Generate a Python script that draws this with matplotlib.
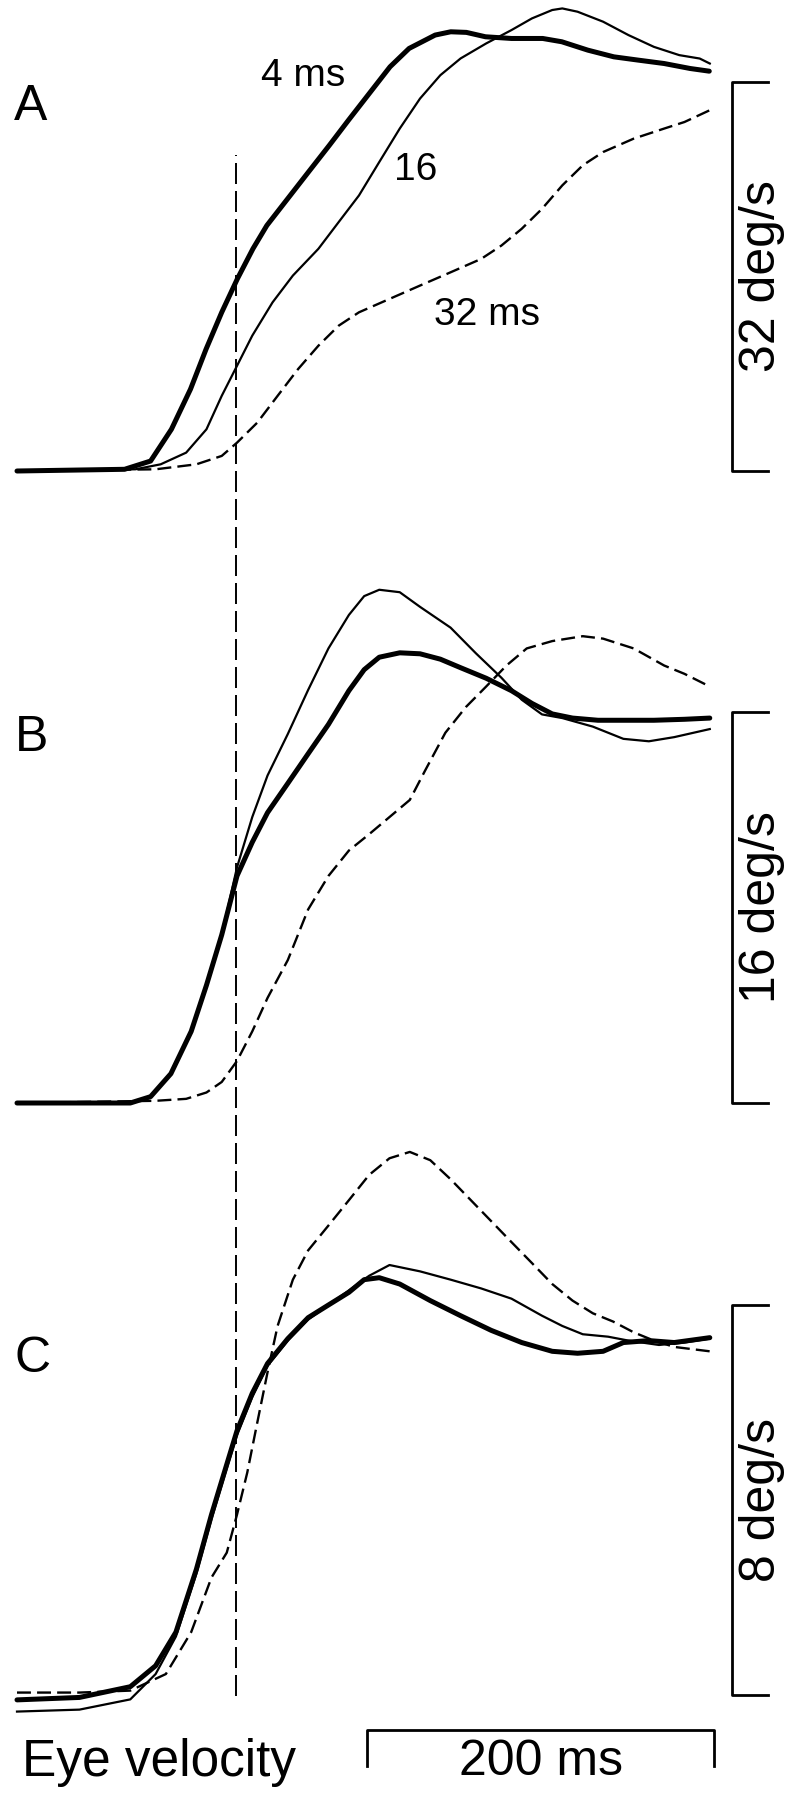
import matplotlib
matplotlib.use("Agg")
import matplotlib.pyplot as plt

plt.rcParams["font.family"] = ["Liberation Sans", "DejaVu Sans"]

# ---------------------------------------------------------------
# data: eye velocity (deg/s) vs time (ms from trace start)
# ---------------------------------------------------------------
T_ONSET = 126.5  # dashed vertical line

# panel A (32 deg/s)
a4_t = [0, 62, 77, 89, 100, 109, 118, 127, 136, 144, 156, 168, 180, 191, 203,
        215, 226, 241, 250, 259, 270, 285, 303, 314, 329, 344, 358, 373, 388, 399]
a4_v = [0, 0.14, 0.82, 3.43, 6.73, 10.03, 13.05, 15.80, 18.28, 20.19, 22.39, 24.59,
        26.78, 28.84, 31.04, 33.24, 34.75, 35.85, 36.12, 36.07, 35.71, 35.57, 35.57,
        35.30, 34.61, 34.06, 33.79, 33.51, 33.10, 32.88]

a16_t = [0, 68.2, 82.8, 97.5, 109.2, 118, 126.8, 135.6, 147.3, 159, 173.7, 185.4,
         197.1, 208.8, 220.6, 232.3, 244, 255.7, 270.4, 285, 296.8, 308.5, 314.3,
         323.1, 337.8, 352.4, 367.1, 381.7, 393.5, 399.3]
a16_v = [0, 0.14, 0.55, 1.51, 3.43, 6.18, 8.65, 11.13, 13.87, 16.07, 18.27, 20.47,
         22.66, 25.41, 28.16, 30.63, 32.55, 33.93, 35.16, 36.26, 37.22, 37.91, 38.04,
         37.77, 36.95, 35.85, 34.88, 34.20, 33.92, 33.51]

a32_t = [0, 79.9, 103.4, 118, 126.8, 138.5, 150.2, 162, 173.7, 185.4, 197.1, 214.7,
         232.3, 249.9, 267.5, 279.2, 290.9, 302.6, 314.3, 326.1, 337.8, 355.4, 373,
         384.7, 399.3]
a32_v = [0, 0.14, 0.55, 1.24, 2.33, 3.98, 6.18, 8.38, 10.30, 11.95, 13.05, 14.15,
         15.25, 16.34, 17.44, 18.54, 19.92, 21.56, 23.49, 25.14, 26.23, 27.33, 28.16,
         28.70, 29.67]

# panel B (16 deg/s)
b4_t = [0, 65.3, 77, 88.7, 100.4, 109.2, 118, 126.8, 135.6, 144.4, 156.1, 167.8,
        179.5, 191.3, 200.1, 208.8, 220.6, 232.3, 244, 255.7, 270.4, 285, 296.8,
        308.5, 320.2, 334.9, 349.5, 367.1, 384.7, 399.3]
b4_v = [0, 0, 0.26, 1.2, 2.93, 4.82, 6.88, 9.29, 10.67, 11.88, 13.08, 14.29, 15.49,
        16.87, 17.73, 18.24, 18.42, 18.38, 18.16, 17.81, 17.38, 16.87, 16.35, 15.92,
        15.75, 15.66, 15.66, 15.66, 15.70, 15.75]

b16_t = [0, 65.3, 77, 88.7, 100.4, 109.2, 118, 126.8, 135.6, 144.4, 156.1, 167.8,
         179.5, 191.3, 200.1, 208.8, 220.6, 232.3, 249.9, 264.5, 279.2, 290.9, 302.6,
         314.3, 331.9, 349.5, 364.2, 378.8, 399.3]
b16_v = [0, 0, 0.26, 1.2, 2.93, 4.82, 6.88, 9.64, 11.7, 13.4, 15.1, 16.9, 18.6,
         19.97, 20.74, 21.0, 20.9, 20.3, 19.45, 18.4, 17.4, 16.5, 15.9, 15.75, 15.4,
         14.9, 14.8, 14.97, 15.3]

b32_t = [0, 79.9, 97.5, 109.2, 118, 126.8, 135.6, 144.4, 156.1, 167.8, 179.5, 191.3,
         203, 214.7, 226.4, 235.2, 246.9, 258.7, 270.4, 282.1, 293.8, 308.5, 326.1,
         337.8, 355.4, 373, 384.7, 399.3]
b32_v = [0, 0.09, 0.17, 0.43, 0.86, 1.72, 2.93, 4.30, 5.85, 7.92, 9.29, 10.33, 11.0,
         11.7, 12.4, 13.6, 15.15, 16.2, 17.04, 17.9, 18.6, 18.9, 19.1, 19.0, 18.6,
         17.9, 17.56, 17.04]

# panel C (8 deg/s)
c4_t = [0, 36, 65.3, 79.9, 91.6, 103.4, 112.1, 120.9, 126.8, 135.6, 144.4, 156.1,
        167.8, 179.5, 191.3, 200.1, 208.8, 220.6, 238.2, 255.7, 273.3, 290.9, 308.5,
        323.1, 337.8, 349.5, 364.2, 378.8, 399.3]
c4_v = [-0.1, -0.05, 0.17, 0.6, 1.29, 2.58, 3.70, 4.73, 5.42, 6.19, 6.80, 7.31, 7.74,
        8.0, 8.26, 8.52, 8.56, 8.43, 8.09, 7.78, 7.48, 7.23, 7.05, 7.01, 7.05, 7.23,
        7.27, 7.23, 7.33]

c16_t = [0, 36, 65.3, 79.9, 91.6, 103.4, 112.1, 120.9, 126.8, 135.6, 144.4, 156.1,
         167.8, 179.5, 191.3, 203, 214.7, 232.3, 249.9, 267.5, 285, 302.6, 314.3,
         326.1, 340.7, 352.4, 370, 384.7, 399.3]
c16_v = [-0.34, -0.30, -0.09, 0.43, 1.20, 2.49, 3.61, 4.65, 5.33, 6.11, 6.75, 7.27,
         7.70, 8.0, 8.30, 8.60, 8.82, 8.69, 8.52, 8.34, 8.13, 7.78, 7.57, 7.40, 7.35,
         7.27, 7.18, 7.23, 7.31]

c32_t = [0, 36, 65.3, 85.8, 100.4, 112.1, 120.9, 126.8, 132.7, 138.5, 144.4, 150.2,
         159, 167.8, 179.5, 191.3, 203, 214.7, 226.4, 238.2, 249.9, 261.6, 273.3,
         285, 296.8, 308.5, 320.2, 331.9, 343.6, 355.4, 367.1, 378.8, 399.3]
c32_v = [0.05, 0.05, 0.09, 0.43, 1.29, 2.41, 2.92, 3.70, 4.56, 5.59, 6.62, 7.57,
         8.52, 9.12, 9.63, 10.15, 10.67, 11.01, 11.14, 10.97, 10.58, 10.15, 9.72,
         9.29, 8.86, 8.43, 8.09, 7.83, 7.66, 7.44, 7.27, 7.14, 7.05]

# ---------------------------------------------------------------
# layout (pixels of an 800 x 1804 canvas)
# ---------------------------------------------------------------
W, H = 800, 1804
X0 = 17            # px where t = 0
PX_PER_MS = 1.735

fig = plt.figure(figsize=(W / 100, H / 100), dpi=100)
XLIM = (-X0 / PX_PER_MS, (W - X0) / PX_PER_MS)


def make_panel(top, bottom, base, px_per_unit):
    ax = fig.add_axes([0, 1 - bottom / H, 1, (bottom - top) / H])
    ax.set_xlim(*XLIM)
    ax.set_ylim(-(bottom - base) / px_per_unit, (base - top) / px_per_unit)
    ax.axis("off")
    return ax


THICK = dict(color="black", lw=3.6, solid_joinstyle="round", solid_capstyle="round", clip_on=False)
THIN = dict(color="black", lw=1.6, solid_joinstyle="round", clip_on=False)
DASH = dict(color="black", lw=1.7, linestyle=(0, (5.9, 2.6)), clip_on=False)

T_BAR = 412.1
T_TICK = 432.9
T_LABEL = 429.5
BIG = 36
SMALL = 28


def scale_bar(ax, size, label):
    ax.plot([T_TICK, T_BAR, T_BAR, T_TICK], [size, size, 0, 0],
            color="black", lw=2.0, clip_on=False)
    ax.text(T_LABEL, size / 2, label, rotation=90, ha="center", va="center",
            fontsize=BIG)


panels = [
    # top, bottom, baseline, px per deg/s, bar size, letter, letter y, curves
    (0, 540, 471, 12.16, 32, "A", 28.9, (a4_t, a4_v), (a16_t, a16_v), (a32_t, a32_v)),
    (540, 1150, 1103, 24.44, 16, "B", 14.4, (b4_t, b4_v), (b16_t, b16_v), (b32_t, b32_v)),
    (1150, 1804, 1695, 48.75, 8, "C", 6.63, (c4_t, c4_v), (c16_t, c16_v), (c32_t, c32_v)),
]

axes = []
for top, bottom, base, ppu, size, letter, ly, thick, thin, dash in panels:
    ax = make_panel(top, bottom, base, ppu)
    ax.plot(*dash, **DASH)
    ax.plot(*thin, **THIN)
    ax.plot(*thick, **THICK)
    scale_bar(ax, size, f"{size} deg/s")
    ax.text(-1.5, ly, letter, fontsize=BIG, ha="left", va="baseline")
    axes.append(ax)

axA, axB, axC = axes

# curve labels in panel A
axA.text(140.6, 31.7, "4 ms", fontsize=SMALL, ha="left", va="baseline")
axA.text(217.3, 23.9, "16", fontsize=SMALL, ha="left", va="baseline")
axA.text(240.3, 12.0, "32 ms", fontsize=SMALL, ha="left", va="baseline")

# time scale bar and caption under panel C
axC.plot([201.7, 201.7, 401.7, 401.7], [-1.46, -0.72, -0.72, -1.46],
         color="black", lw=2.0, clip_on=False)
axC.text(302, -1.64, "200 ms", fontsize=BIG, ha="center", va="baseline")
axC.text(3.0, -1.66, "Eye velocity", fontsize=37, ha="left", va="baseline")

# dashed vertical line across all panels
ax_all = fig.add_axes([0, 0, 1, 1])
ax_all.set_xlim(*XLIM)
ax_all.set_ylim(0, 1)
ax_all.axis("off")
ax_all.axvline(T_ONSET, ymin=(H - 1696) / H, ymax=(H - 155) / H, color="black",
               lw=1.4, linestyle=(0, (10.8, 3.6)))

fig.savefig("out.png", dpi=100)
